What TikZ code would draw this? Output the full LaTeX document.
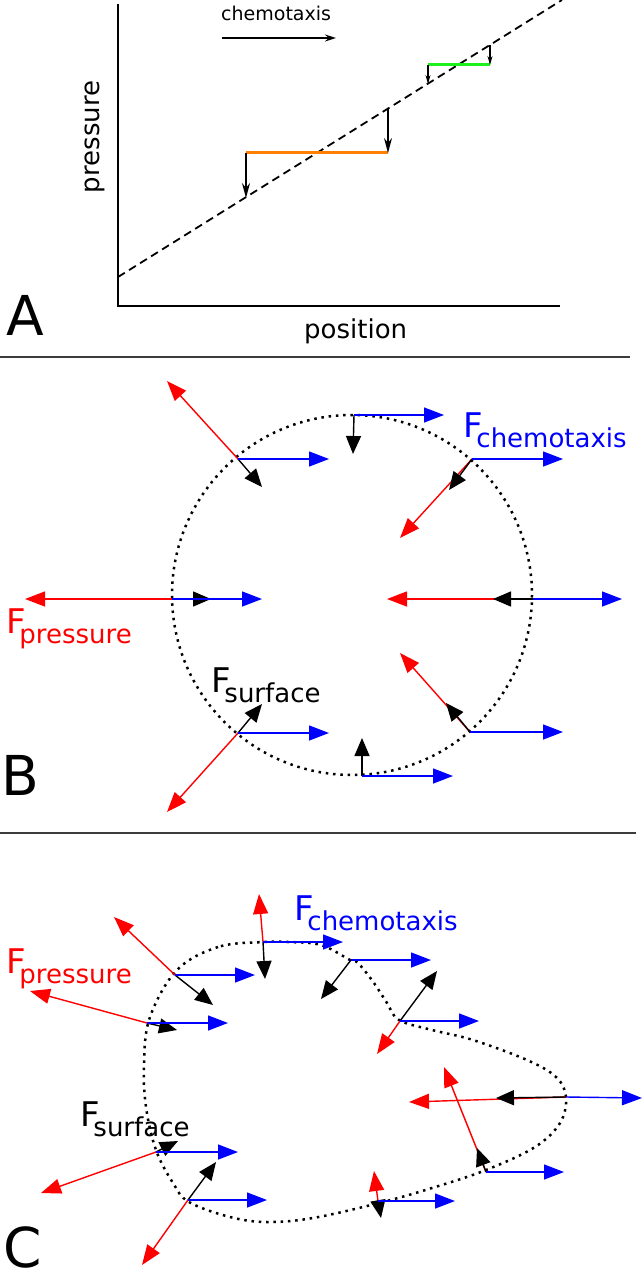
\documentclass[tikz,border=0pt]{standalone}
\usepackage{fontspec}
\setmainfont{DejaVu Sans}
\usetikzlibrary{arrows.meta}
\definecolor{fred}{RGB}{255,0,0}
\definecolor{fblue}{RGB}{0,0,255}
\definecolor{forange}{RGB}{255,128,0}
\definecolor{fgreen}{RGB}{30,240,30}
\definecolor{sepgray}{RGB}{60,60,60}
\newcommand{\Flab}[1]{\fontsize{34}{34}\selectfont F\kern-7pt\raisebox{-10pt}{\fontsize{26}{26}\selectfont #1}}
\tikzset{
  lab/.style={inner sep=0pt, anchor=base west},
  panel/.style={inner sep=0pt, anchor=base west, font=\fontsize{55}{55}\selectfont},
  axis/.style={line width=1.3pt, black},
  athin/.style={line width=1.4pt, -{Stealth[length=15pt,width=8pt]}},
  asmall/.style={line width=1.1pt, -{Stealth[length=9pt,width=5pt]}},
  pcol/.style={line width=1.4pt, fred, -{Triangle[length=20pt,width=15pt]}},
  ccol/.style={line width=1.4pt, fblue, -{Triangle[length=20pt,width=15pt]}},
  scol/.style={line width=1.4pt, black, -{Triangle[length=18pt,width=15pt]}},
  cell/.style={line width=2.5pt, dash pattern=on 2.5pt off 4.8pt},
  sep/.style={line width=1.8pt, sepgray},
}
\begin{document}
\begin{tikzpicture}[x=1pt,y=-1pt]
\useasboundingbox (0,0) rectangle (644,1273);
\clip (0,0) rectangle (644,1273);
% ---------------- Panel A ----------------
\coordinate (Ytop) at (118,4);
\coordinate (O) at (118,306);
\coordinate (Xend) at (560,306);
\draw[axis] (Ytop) -- (O) -- (Xend);
\coordinate (d0) at (118,277);
\coordinate (d1) at (562,0);
\draw[line width=1.8pt, dash pattern=on 8pt off 5pt] (d0) -- (d1);
\coordinate (o1) at (246,153);
\coordinate (o2) at (388,153);
\coordinate (o1d) at (246,198);
\coordinate (o2u) at (388,108);
\draw[line width=3pt, forange] (o1) -- (o2);
\draw[athin] (o1) -- (o1d);
\draw[athin] (o2u) -- (o2);
\coordinate (g1) at (428,65);
\coordinate (g2) at (490,65);
\coordinate (g1d) at (428,84);
\coordinate (g2u) at (490,45);
\draw[line width=3pt, fgreen] (g1) -- (g2);
\draw[asmall] (g1) -- (g1d);
\draw[asmall] (g2u) -- (g2);
\coordinate (ch0) at (222,38);
\coordinate (ch1) at (336,38);
\draw[line width=1.4pt, -{Stealth[length=11pt,width=7pt]}] (ch0) -- (ch1);
\node[lab, font=\fontsize{19}{19}\selectfont] (chem) at (221,21) {chemotaxis};
\node[inner sep=0pt, anchor=base, rotate=90, font=\fontsize{26}{26}\selectfont] (pres) at (99,137) {pressure};
\node[lab, font=\fontsize{26}{26}\selectfont] (posi) at (304,338) {position};
\node[panel] (lA) at (6,335) {A};
\coordinate (s1a) at (0,357);
\coordinate (s1b) at (630,357);
\draw[sep] (s1a) -- (s1b);
% ---------------- Panel B ----------------
\coordinate (bc) at (352,595);
\draw[cell] (bc) circle[radius=180];
% points on circle
\coordinate (b1) at (354,415);
\coordinate (b2) at (238,459);
\coordinate (b3) at (472,459);
\coordinate (b4) at (172,599);
\coordinate (b5) at (533,599);
\coordinate (b6) at (238,733);
\coordinate (b7) at (470,732);
\coordinate (b8) at (362,776);
% pressure (red)
\coordinate (b2r) at (167,381);
\coordinate (b3r) at (400,538);
\coordinate (b4r) at (25,599);
\coordinate (b5r) at (387,599);
\coordinate (b6r) at (167,812);
\coordinate (b7r) at (400,653);
\draw[pcol] (b2) -- (b2r);
\draw[pcol] (b3) -- (b3r);
\draw[pcol] (b4) -- (b4r);
\draw[pcol] (b5) -- (b5r);
\draw[pcol] (b6) -- (b6r);
\draw[pcol] (b7) -- (b7r);
% surface (black)
\coordinate (b1s) at (353,454);
\coordinate (b2s) at (262,487);
\coordinate (b3s) at (449,490);
\coordinate (b4s) at (211,599);
\coordinate (b5s) at (493,599);
\coordinate (b6s) at (262,704);
\coordinate (b7s) at (446,703);
\coordinate (b8s) at (362,738);
\draw[scol] (b1) -- (b1s);
\draw[scol] (b2) -- (b2s);
\draw[scol] (b3) -- (b3s);
\draw[scol] (b4) -- (b4s);
\draw[scol] (b5) -- (b5s);
\draw[scol] (b6) -- (b6s);
\draw[scol] (b7) -- (b7s);
\draw[scol] (b8) -- (b8s);
% chemotaxis (blue)
\coordinate (b1c) at (444,415);
\coordinate (b2c) at (329,459);
\coordinate (b3c) at (563,459);
\coordinate (b4c) at (262,599);
\coordinate (b5c) at (622,599);
\coordinate (b6c) at (329,733);
\coordinate (b7c) at (563,732);
\coordinate (b8c) at (453,776);
\draw[ccol] (b1) -- (b1c);
\draw[ccol] (b2) -- (b2c);
\draw[ccol] (b3) -- (b3c);
\draw[ccol] (b4) -- (b4c);
\draw[ccol] (b5) -- (b5c);
\draw[ccol] (b6) -- (b6c);
\draw[ccol] (b7) -- (b7c);
\draw[ccol] (b8) -- (b8c);
\node[lab, text=fred] (bFp) at (6.7,633) {\Flab{pressure}};
\node[lab, text=fblue] (bFc) at (463.7,437) {\Flab{chemotaxis}};
\node[lab, text=black] (bFs) at (211.7,692) {\Flab{surface}};
\node[panel] (lB) at (1,795) {B};
\coordinate (s2a) at (0,833);
\coordinate (s2b) at (636,833);
\draw[sep] (s2a) -- (s2b);
% ---------------- Panel C ----------------
\draw[cell] plot[smooth cycle, tension=0.6] coordinates {
 (263,942) (218,947) (177,970) (150,1017) (144,1063) (146,1107) (156,1150)
 (173,1183) (189,1202) (230,1217) (267,1222) (313,1218) (379,1203) (432,1188)
 (486,1170) (535,1147) (560,1123) (566,1097) (556,1077) (527,1060) (473,1040)
 (432,1030) (399,1020) (387,1003) (374,983) (358,963) (350,960) (321,945) (288,942)};
\coordinate (c1) at (175,975);
\coordinate (c2) at (147,1023);
\coordinate (c3) at (263,942);
\coordinate (c4) at (351,960);
\coordinate (c5) at (400,1021);
\coordinate (c6) at (566,1097);
\coordinate (c7) at (486,1172);
\coordinate (c8) at (378,1201);
\coordinate (c9) at (188,1200);
\coordinate (c10) at (156,1152);
% pressure
\coordinate (c1r) at (114,917);
\coordinate (c2r) at (30,991);
\coordinate (c3r) at (259,894);
\coordinate (c5r) at (377,1054);
\coordinate (c6r) at (409,1102);
\coordinate (c7r) at (444,1067);
\coordinate (c8r) at (374,1171);
\coordinate (c9r) at (142,1265);
\coordinate (c10r) at (41,1193);
\draw[pcol] (c1) -- (c1r);
\draw[pcol] (c2) -- (c2r);
\draw[pcol] (c3) -- (c3r);
\draw[pcol] (c5) -- (c5r);
\draw[pcol] (c6) -- (c6r);
\draw[pcol] (c7) -- (c7r);
\draw[pcol] (c8) -- (c8r);
\draw[pcol] (c9) -- (c9r);
\draw[pcol] (c10) -- (c10r);
% surface
\coordinate (c1s) at (213,1005);
\coordinate (c2s) at (177,1030);
\coordinate (c3s) at (265,979);
\coordinate (c4s) at (321,999);
\coordinate (c5s) at (437,971);
\coordinate (c6s) at (496,1098);
\coordinate (c7s) at (477,1148);
\coordinate (c8s) at (381,1218);
\coordinate (c9s) at (216,1162);
\coordinate (c10s) at (178,1141);
\draw[scol] (c1) -- (c1s);
\draw[scol] (c2) -- (c2s);
\draw[scol] (c3) -- (c3s);
\draw[scol] (c4) -- (c4s);
\draw[scol] (c5) -- (c5s);
\draw[scol] (c6) -- (c6s);
\draw[scol] (c7) -- (c7s);
\draw[scol] (c8) -- (c8s);
\draw[scol] (c9) -- (c9s);
\draw[scol] (c10) -- (c10s);
% chemotaxis
\coordinate (c1c) at (255,975);
\coordinate (c2c) at (228,1023);
\coordinate (c3c) at (343,942);
\coordinate (c4c) at (431,960);
\coordinate (c5c) at (479,1021);
\coordinate (c6c) at (642,1098);
\coordinate (c7c) at (564,1172);
\coordinate (c8c) at (455,1201);
\coordinate (c9c) at (267,1200);
\coordinate (c10c) at (238,1152);
\draw[ccol] (c1) -- (c1c);
\draw[ccol] (c2) -- (c2c);
\draw[ccol] (c3) -- (c3c);
\draw[ccol] (c4) -- (c4c);
\draw[ccol] (c5) -- (c5c);
\draw[ccol] (c6) -- (c6c);
\draw[ccol] (c7) -- (c7c);
\draw[ccol] (c8) -- (c8c);
\draw[ccol] (c9) -- (c9c);
\draw[ccol] (c10) -- (c10c);
\node[lab, text=fred] (cFp) at (6.7,973) {\Flab{pressure}};
\node[lab, text=fblue] (cFc) at (294.7,920) {\Flab{chemotaxis}};
\node[lab, text=black] (cFs) at (80.7,1126) {\Flab{surface}};
\node[panel] (lC) at (3,1267) {C};
\end{tikzpicture}
\end{document}
